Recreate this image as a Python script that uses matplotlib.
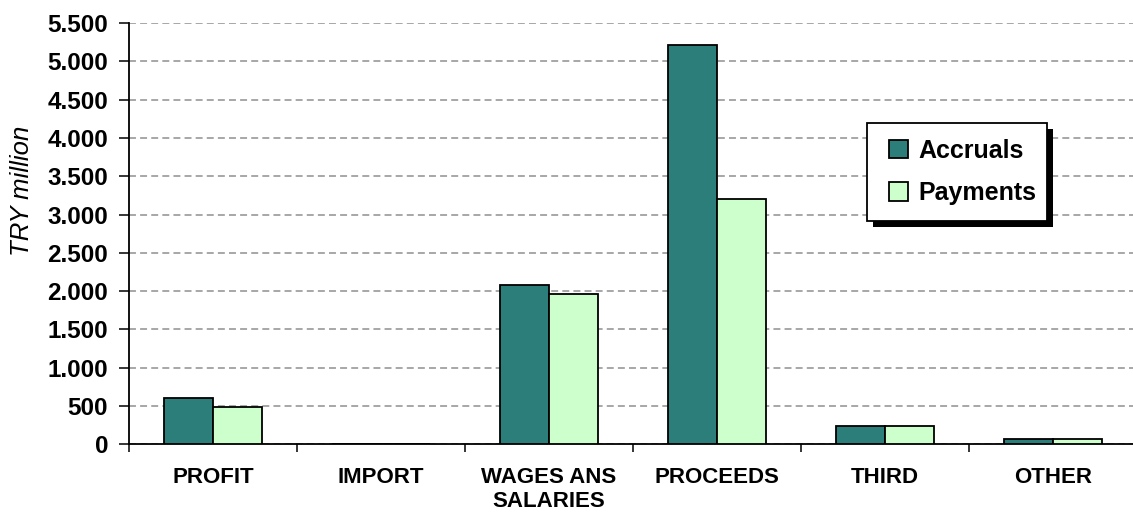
import matplotlib
matplotlib.use("Agg")
import matplotlib.pyplot as plt
from matplotlib.patches import Rectangle
from matplotlib.ticker import FuncFormatter
import numpy as np

categories = ["PROFIT", "IMPORT", "WAGES ANS\nSALARIES", "PROCEEDS", "THIRD", "OTHER"]
accruals = [610, 0, 2080, 5210, 240, 70]
payments = [485, 0, 1960, 3200, 235, 70]
yticks = [0, 500, 1000, 1500, 2000, 2500, 3000, 3500, 4000, 4500, 5000, 5500]

plt.rcParams["font.family"] = ["Liberation Sans", "DejaVu Sans"]
plt.rcParams["lines.scale_dashes"] = False

ACC_COLOR = "#2B7E79"
PAY_COLOR = "#CCFFCC"
W, H = 1133, 512

fig = plt.figure(figsize=(W / 100, H / 100), dpi=100)
ax = fig.add_axes([129 / W, 1 - 444.3 / H, 1008 / W, 421.3 / H])

x = np.arange(len(categories))
w = 0.29
ax.bar(x - w / 2, accruals, w, color=ACC_COLOR, edgecolor="black", linewidth=1.3,
       label="Accruals", zorder=3)
ax.bar(x + w / 2, payments, w, color=PAY_COLOR, edgecolor="black", linewidth=1.3,
       label="Payments", zorder=3)

ax.set_xlim(-0.5, len(categories) - 0.5)
ax.set_ylim(0, 5500)

# y axis: dotted-thousands labels, gray dashed grid
ax.set_yticks(yticks)
ax.yaxis.set_major_formatter(FuncFormatter(lambda v, p: f"{int(v):,}".replace(",", ".")))
ax.tick_params(axis="y", direction="out", length=7, width=1.1, labelsize=17.5, pad=8)
for lab in ax.get_yticklabels():
    lab.set_fontweight("bold")
ax.yaxis.grid(True, color="#A0A0A0", linestyle=(0, (5, 3)), linewidth=1.3)
ax.set_axisbelow(True)

# x axis: tick marks between categories, labels centred under groups
ax.set_xticks(x)
ax.set_xticklabels(categories, fontsize=16, fontweight="bold", va="top")
ax.tick_params(axis="x", which="major", length=0, pad=16)
ax.set_xticks(np.arange(-0.5, len(categories)), minor=True)
ax.tick_params(axis="x", which="minor", direction="out", length=6, width=1.1)

for s in ["top", "right"]:
    ax.spines[s].set_visible(False)
for s in ["left", "bottom"]:
    ax.spines[s].set_linewidth(1.3)

fig.text(22 / W, 1 - 191 / H, "TRY million", rotation=90, fontsize=18.5,
         fontstyle="italic", ha="center", va="center")

# legend box with a solid black drop shadow
bx0, by0, bx1, by1 = 867, 123, 1047, 221
shadow = Rectangle(((bx0 + 6) / W, 1 - (by1 + 6) / H), (bx1 - bx0) / W, (by1 - by0) / H,
                   transform=fig.transFigure, facecolor="black", edgecolor="none",
                   zorder=8, clip_on=False)
box = Rectangle((bx0 / W, 1 - by1 / H), (bx1 - bx0) / W, (by1 - by0) / H,
                transform=fig.transFigure, facecolor="white", edgecolor="black",
                linewidth=1.3, zorder=9, clip_on=False)
ax.add_patch(shadow)
ax.add_patch(box)

leg = ax.legend(loc="upper left", bbox_to_anchor=(881 / W, 1 - 131 / H),
                bbox_transform=fig.transFigure, borderaxespad=0, frameon=False,
                prop={"size": 18, "weight": "bold"},
                handlelength=0.76, handleheight=0.76, handletextpad=0.44,
                labelspacing=0.74, borderpad=0.3)
leg.set_zorder(10)

fig.savefig("out.png", dpi=100)
